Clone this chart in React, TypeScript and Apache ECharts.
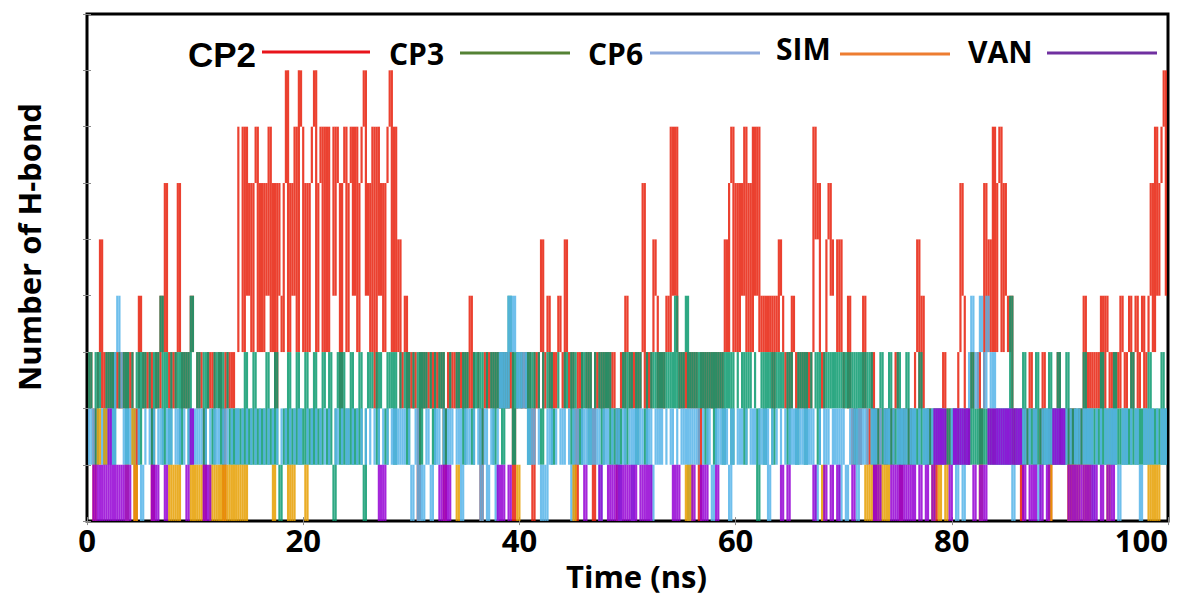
import { useEffect, useRef } from "react";
import * as echarts from "echarts";

// Number of H-bonds sampled every 0.2 ns (one character = one sample, 50 samples per 10 ns)
const TIME_STEP = 0.2;
const X_TICKS = [0, 20, 40, 60, 80, 100];
const Y_LEVELS = [0, 1, 2, 3, 4, 5, 6, 7, 8, 9];
const SERIES_NAMES = ["CP2", "CP3", "CP6", "SIM", "VAN"];

const CP2 = [
  "2320235232" + "3232323232" + "3202432323" + "0232436323" + "2363232343",
  "3232023232" + "2320323233" + "7737463673" + "6364736264" + "3683647387",
  "3636783673" + "7377476267" + "3674736784" + "6372746367" + "8373523423",
  "2320323232" + "3232302323" + "2323232423" + "3202323232" + "3232323023",
  "3232320323" + "5234232343" + "2532320323" + "3232032323" + "2323202324",
  "3232323623" + "2354232343" + "7473232323" + "2320323232" + "3232353673",
  "6364736374" + "7343434243" + "5432324323" + "2323237563" + "2356455353",
  "2242122124" + "2123021221" + "2212320122" + "1223524221" + "2202123212",
  "2123642123" + "2231263537" + "3673643421" + "2202123212" + "2132202123",
  "2122021221" + "2423232324" + "2432323243" + "2342342342" + "3463746784",
];

const CP3 = [
  "3233132213" + "2313322313" + "3223132332" + "1323413213" + "3231323143",
  "3233132213" + "2313321212" + "1213121312" + "1213121310" + "1213121312",
  "1312131213" + "2131023131" + "2131213102" + "3233132213" + "2313322313",
  "3223132332" + "1332312233" + "3233132213" + "2313322313" + "2313243132",
  "3223132332" + "1332312233" + "3233132213" + "2313322313" + "2312121231",
  "3233132213" + "3232323232" + "3242323423" + "2323231323" + "1323132313",
  "3223132332" + "0231323132" + "3233132213" + "2313322313" + "3232323232",
  "3232313232" + "3231212312" + "1312131213" + "1212131212" + "1212121212",
  "1212121213" + "1212121212" + "1212121412" + "1213121213" + "1212131213",
  "1213121212" + "1312121213" + "1212131212" + "1213121212" + "1312121312",
];

const CP6 = [
  "1212211212" + "1213432121" + "2122101221" + "1221211212" + "2121122121",
  "2121122112" + "1221211221" + "2211221122" + "1122112211" + "2211221121",
  "1122112211" + "2211121122" + "1221122112" + "2112211221" + "1212121221",
  "0120101210" + "1212211212" + "2120121221" + "1201201210" + "2323243432",
  "3232121221" + "0102122112" + "1221021221" + "2121212012" + "1221120121",
  "1202121221" + "2012121122" + "1221121202" + "1212211210" + "1212121021",
  "1212211212" + "2121201221" + "1221121212" + "1212121012" + "2121121202",
  "1012120212" + "1221211221" + "2112212121" + "1212211212" + "2121212222",
  "1201201234" + "3234324323" + "2121212101" + "2121221121" + "0121212121",
  "1212211212" + "2121201221" + "1212121012" + "1221121012" + "1212211212",
];

const SIM = [
  "1111121121" + "1111111101" + "1201111111" + "1111111101" + "0101111101",
  "0101111010" + "1010101010" + "1010111111" + "1111110111" + "1110101111",
  "1011111111" + "1111111111" + "1111111111" + "1111111111" + "1111111111",
  "1111111111" + "1111111111" + "1011111111" + "1111111111" + "1111111110",
  "1111111111" + "1111111111" + "1111101111" + "1111111111" + "1111111111",
  "1111111111" + "1111111111" + "1111111010" + "1111111111" + "1111111111",
  "1111111111" + "1111111111" + "1111111111" + "1111111111" + "0111111111",
  "1111111111" + "0101110101" + "0111111111" + "1111111111" + "1011011011",
  "1111111111" + "1110111111" + "1111111111" + "1111111111" + "1111101111",
  "1111010101" + "1010111111" + "1101111111" + "1111111111" + "1010101111",
];

const VAN = [
  "1110101010" + "2010101010" + "1111111111" + "0101110111" + "1111110121",
  "1111010111" + "1111111111" + "1111111111" + "1111111111" + "1111111111",
  "1111111111" + "1111111111" + "1111111111" + "1111101011" + "1111111111",
  "1111111111" + "1110101011" + "1111111111" + "1111111111" + "0101101111",
  "1111111111" + "1111111111" + "1111111111" + "0111111011" + "1010101010",
  "1010110101" + "0111111111" + "1010111111" + "0111010111" + "1011111111",
  "1111111111" + "1111111111" + "1011011111" + "1111110111" + "1011011011",
  "1111011111" + "1111010111" + "1101010101" + "0101101101" + "1021212110",
  "1212121211" + "0110101212" + "1212121212" + "1210110101" + "1011011212",
  "1211010101" + "0101010110" + "1101011111" + "1111111111" + "1111111111",
];

const PLOT_COLORS = ["#e8200c", "#0a9a6e", "#56b4e9", "#e69f00", "#9400d3"];
const LEGEND_COLORS = ["#e8141b", "#548235", "#8faadc", "#ed7d31", "#7030a0"];

function toValues(chunks: string[]): number[] {
  return chunks.join("").split("").map((c) => Number(c));
}

// vertical segments where the count changes between consecutive samples
function toSegments(values: number[]): number[][] {
  const out: number[][] = [];
  for (let i = 1; i < values.length; i++) {
    if (values[i] !== values[i - 1]) {
      out.push([Math.round(i * TIME_STEP * 100) / 100, values[i - 1], values[i]]);
    }
  }
  return out;
}

export default function App() {
  const ref = useRef<HTMLDivElement>(null);

  useEffect(() => {
    if (!ref.current) return;
    const chart = echarts.init(ref.current, undefined, { renderer: "svg" });
    const all = [CP2, CP3, CP6, SIM, VAN];

    const series = all.map((chunks, k) => ({
      type: "custom" as const,
      name: SERIES_NAMES[k],
      clip: true,
      encode: { x: 0, y: [1, 2] },
      data: toSegments(toValues(chunks)),
      renderItem: (_p: any, api: any) => {
        const t = api.value(0);
        const a = api.coord([t, api.value(1)]);
        const b = api.coord([t, api.value(2)]);
        return {
          type: "line",
          shape: { x1: a[0], y1: a[1], x2: b[0], y2: b[1] },
          style: { stroke: PLOT_COLORS[k], lineWidth: 2.2, opacity: 0.85 },
        };
      },
    }));

    const tickStyle = { show: true, inside: true, length: 4, lineStyle: { color: "#8a8a8a", width: 1 } };
    const labelFont = { fontFamily: "Open Sans", fontWeight: "bold" as const, color: "#000" };

    const legendX = [188, 389, 588, 776, 968];
    const legendY = [54, 53, 53, 48, 51];
    const lineX = [[262, 370], [460, 570], [650, 760], [840, 950], [1047, 1157]];
    const lineY = [52, 53, 53, 54, 53];
    const legend: any[] = [];
    SERIES_NAMES.forEach((name, k) => {
      legend.push({
        type: "text",
        x: legendX[k],
        y: legendY[k],
        style: {
          text: name,
          font: k === 0 ? 'bold 35px "Liberation Sans"' : 'bold 30px "Open Sans"',
          fill: "#000",
          align: "left",
          verticalAlign: "middle",
        },
      });
      legend.push({
        type: "line",
        shape: { x1: lineX[k][0], y1: lineY[k], x2: lineX[k][1], y2: lineY[k] },
        style: { stroke: LEGEND_COLORS[k], lineWidth: 3 },
      });
    });

    chart.setOption({
      animation: false,
      grid: {
        left: 87,
        top: 14,
        right: 13,
        bottom: 72,
        show: true,
        borderColor: "#000",
        borderWidth: 3,
        backgroundColor: "transparent",
      },
      xAxis: [
        {
          type: "value",
          min: X_TICKS[0],
          max: X_TICKS[X_TICKS.length - 1],
          interval: X_TICKS[1] - X_TICKS[0],
          axisLine: { show: false },
          axisTick: tickStyle,
          splitLine: { show: false },
          axisLabel: { ...labelFont, fontSize: 31, margin: 3, alignMaxLabel: "right" },
          name: "Time (ns)",
          nameLocation: "middle",
          nameGap: 38,
          nameTextStyle: { ...labelFont, fontSize: 31, padding: [0, 0, 0, 18] },
        },
        {
          type: "value",
          position: "top",
          min: X_TICKS[0],
          max: X_TICKS[X_TICKS.length - 1],
          interval: X_TICKS[1] - X_TICKS[0],
          axisLine: { show: false },
          axisTick: tickStyle,
          splitLine: { show: false },
          axisLabel: { show: false },
        },
      ],
      yAxis: [
        {
          type: "value",
          min: Y_LEVELS[0],
          max: Y_LEVELS[Y_LEVELS.length - 1],
          interval: 1,
          axisLine: { show: false },
          axisTick: tickStyle,
          splitLine: { show: false },
          axisLabel: { show: false },
        },
        {
          type: "value",
          position: "right",
          min: Y_LEVELS[0],
          max: Y_LEVELS[Y_LEVELS.length - 1],
          interval: 1,
          axisLine: { show: false },
          axisTick: tickStyle,
          splitLine: { show: false },
          axisLabel: { show: false },
        },
      ],
      series,
      graphic: [
        {
          type: "text",
          x: 29,
          y: 247,
          rotation: Math.PI / 2,
          style: {
            text: "Number of H-bond",
            font: 'bold 31px "Open Sans"',
            fill: "#000",
            align: "center",
            verticalAlign: "middle",
          },
        },
        ...legend,
      ],
    });

    return () => chart.dispose();
  }, []);

  return (
    <div
      ref={ref}
      style={{ position: "absolute", left: 0, top: 0, width: 1181, height: 596, background: "#fff" }}
    />
  );
}
